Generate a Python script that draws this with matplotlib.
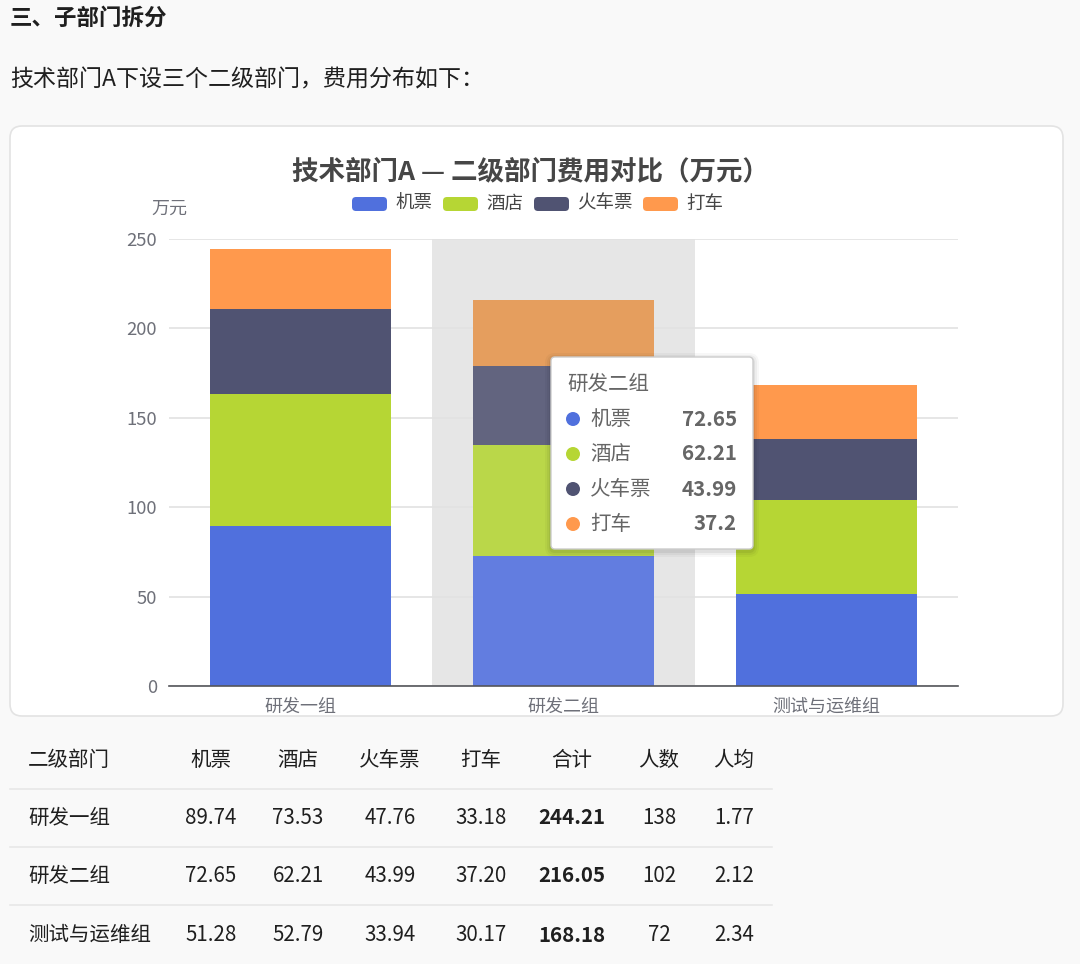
import matplotlib
matplotlib.use("Agg")
import matplotlib.pyplot as plt
from matplotlib.patches import FancyBboxPatch, Circle

plt.rcParams["font.family"] = ["Noto Sans CJK SC", "DejaVu Sans"]

# data
groups = ["研发一组", "研发二组", "测试与运维组"]
seriesNames = ["机票", "酒店", "火车票", "打车"]
flight = [89.74, 72.65, 51.28]
hotel = [73.53, 62.21, 52.79]
train = [47.76, 43.99, 33.94]
taxi = [33.18, 37.20, 30.17]
totals = [244.21, 216.05, 168.18]
headcount = [138, 102, 72]
perHead = [1.77, 2.12, 2.34]
yTicks = [0, 50, 100, 150, 200, 250]
tableHeader = ["二级部门", "机票", "酒店", "火车票", "打车", "合计", "人数", "人均"]
hoverIndex = 1

colors = ["#5070dd", "#b6d634", "#505372", "#ff994d"]
hoverColors = ["#627de0", "#bad749", "#62647f", "#e59e5e"]

W, H = 1080, 964
fig = plt.figure(figsize=(W / 100, H / 100), dpi=100)
fig.patch.set_facecolor("#f9f9f9")


def px(v):
    return v * 0.72


# page layer in pixel coords
page = fig.add_axes([0, 0, 1, 1], zorder=0)
page.set_xlim(0, W)
page.set_ylim(H, 0)
page.axis("off")

page.text(10, 18, "三、子部门拆分", fontsize=px(22.5), fontweight="bold",
          color="#1f1f1f", va="center", ha="left")
page.text(10, 80, "技术部门A下设三个二级部门，费用分布如下：", fontsize=px(23),
          color="#1f1f1f", va="center", ha="left")

card = FancyBboxPatch((10, 126), 1053, 590, boxstyle="round,pad=0,rounding_size=12",
                      facecolor="white", edgecolor="#e3e3e3", linewidth=1.2)
page.add_patch(card)

page.text(531, 172, "技术部门A — 二级部门费用对比（万元）", fontsize=px(26.5),
          fontweight="bold", color="#464646", ha="center", va="center")

# legend
lx = 352
for name, c in zip(seriesNames, colors):
    page.add_patch(FancyBboxPatch((lx, 197), 35, 14, boxstyle="round,pad=0,rounding_size=4",
                                  facecolor=c, edgecolor="none"))
    page.text(lx + 43, 204, name, fontsize=px(18.5), color="#464646", ha="left", va="center")
    lx = lx + 43 + 18 * len(name) + 12

page.text(169, 209, "万元", fontsize=px(18), color="#6e7079", ha="center", va="center")

# chart axes
left, right, top, bottom = 169, 958, 239, 686
ax = fig.add_axes([left / W, (H - bottom) / H, (right - left) / W, (bottom - top) / H], zorder=1)
ax.set_facecolor("none")
x = range(len(groups))
ax.set_xlim(-0.5, len(groups) - 0.5)
ax.set_ylim(0, 250)
ax.axvspan(hoverIndex - 0.5, hoverIndex + 0.5, color="#e6e6e6", zorder=0.5, linewidth=0)
ax.set_yticks(yTicks)
ax.yaxis.grid(True, color="#e2e2e2", linewidth=1.2)
ax.set_axisbelow(True)

base = [0, 0, 0]
for si, vals in enumerate([flight, hotel, train, taxi]):
    cs = [hoverColors[si] if i == hoverIndex else colors[si] for i in range(len(groups))]
    ax.bar(list(x), vals, width=0.69, bottom=base, color=cs, zorder=2, linewidth=0)
    base = [b + v for b, v in zip(base, vals)]

for s in ["top", "right", "left"]:
    ax.spines[s].set_visible(False)
ax.spines["bottom"].set_color("#54555a")
ax.spines["bottom"].set_linewidth(1.2)
ax.spines["bottom"].set_zorder(3)
ax.tick_params(axis="y", length=0, pad=px(12), labelsize=px(18.5), labelcolor="#6e7079")
ax.tick_params(axis="x", length=0, pad=px(12), labelsize=px(18), labelcolor="#6e7079")
ax.set_xticks(list(x))
ax.set_xticklabels(groups)
for lab in ax.get_xticklabels():
    lab.set_clip_path(card)

# tooltip
tip = fig.add_axes([0, 0, 1, 1], zorder=3)
tip.set_xlim(0, W)
tip.set_ylim(H, 0)
tip.axis("off")
tx, ty, tw, th = 551, 357, 202, 192
for k, a in [(6, 0.03), (4, 0.04), (2, 0.06)]:
    tip.add_patch(FancyBboxPatch((tx - k, ty - k + 2), tw + 2 * k, th + 2 * k,
                                 boxstyle="round,pad=0,rounding_size=%d" % (4 + k),
                                 facecolor="black", alpha=a, edgecolor="none"))
tip.add_patch(FancyBboxPatch((tx, ty), tw, th, boxstyle="round,pad=0,rounding_size=4",
                             facecolor="white", edgecolor="#cccccc", linewidth=1))
tip.text(567, 384, groups[hoverIndex], fontsize=px(20.5), color="#666666", ha="left", va="center")
hoverVals = [flight[hoverIndex], hotel[hoverIndex], train[hoverIndex], taxi[hoverIndex]]
for i, (name, v) in enumerate(zip(seriesNames, hoverVals)):
    yy = 419 + 35 * i
    tip.add_patch(Circle((573, yy), 7, facecolor=colors[i], edgecolor="none"))
    tip.text(590, yy, name, fontsize=px(20.5), color="#666666", ha="left", va="center")
    tip.text(737, yy, "{:g}".format(v), fontsize=px(20.5), fontweight="bold",
             color="#666666", ha="right", va="center")

# table
colX = [28, 211, 298, 390, 481, 572, 659, 734]
headY = 760
rowYs = [818, 876, 935]
for j, h in enumerate(tableHeader):
    page.text(colX[j], headY, h, fontsize=px(20.5), color="#1f1f1f",
              ha="left" if j == 0 else "center", va="center")
for ly in [789, 847, 905]:
    page.plot([10, 772], [ly, ly], color="#e8e8e8", linewidth=1.2)
for i, g in enumerate(groups):
    cells = [g, "%.2f" % flight[i], "%.2f" % hotel[i], "%.2f" % train[i], "%.2f" % taxi[i],
             "%.2f" % totals[i], str(headcount[i]), "%.2f" % perHead[i]]
    for j, c in enumerate(cells):
        page.text(colX[j], rowYs[i], c, fontsize=px(20.5), color="#1f1f1f",
                  fontweight="bold" if j == 5 else "normal",
                  ha="left" if j == 0 else "center", va="center")

fig.savefig("out.png", dpi=100, facecolor=fig.get_facecolor())
